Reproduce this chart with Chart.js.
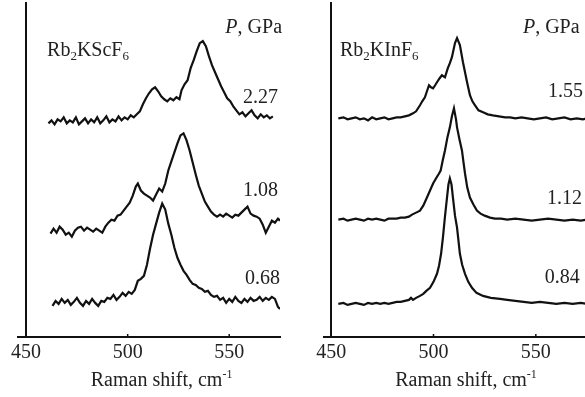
<!DOCTYPE html>
<html>
<head>
<meta charset="utf-8">
<script src="https://cdn.jsdelivr.net/npm/chart.js@4/dist/chart.umd.min.js"></script>
<style>
  html, body { margin: 0; padding: 0; background: #fff; overflow: hidden; width: 585px; height: 397px; }
  .panel { position: absolute; top: 0; width: 300px; height: 397px; }
  #leftPanel { left: 0; }
  #rightPanel { left: 305px; }
</style>
</head>
<body>
<div class="panel" id="leftPanel"><canvas id="chartScF" width="300" height="397"></canvas></div>
<div class="panel" id="rightPanel"><canvas id="chartInF" width="300" height="397"></canvas></div>
<script>
// x axis ticks, cm-1
const xTicks = [450, 500, 550];

// Rb2KScF6, 2.27 GPa
const scf227Shift = [461,462.5,464,465.5,467,468.5,470,471.5,473,474.5,476,477.5,479,480.5,482,483.5,485,486.5,488,489.5,491,492.5,494,495.5,497,498.5,500,501.5,503,504.5,
  506,507.5,509,510.5,512,513.5,515,516.5,518,519.5,521,522.5,524,525.5,526.5,
  528,529.5,531,532.5,534,535.5,537,538.5,540,541.5,543,544.5,546,547.5,549,550.5,552,553.5,555,556.5,558,559.5,561,562.5,564,565.5,567,568.5,570,571.5];
const scf227Int = [213,216,212,217,215,219,213,216,214,219,212,215,218,213,217,214,219,213,216,220,214,217,215,220,216,219,217,221,219,222,
  225,232,238,243,247,249,245,240,237,235,238,236,239,237,246,
  252,256,268,276,285,293,295,290,280,271,264,257,250,244,238,235,230,226,222,224,220,223,226,221,218,222,219,221,218,220];

// Rb2KScF6, 1.08 GPa
const scf108Shift = [462,463.5,465,466.5,468,469.5,471,472.5,474,475.5,477,478.5,480,481.5,483,484.5,486,487.5,489,490.5,492,493.5,495,496.5,498,499.5,501,502.5,504,505,
  506.5,508,509.5,511,512.5,514,515.5,517,518.5,520,521.5,523,524.5,526,527.5,529,530.5,532,533.5,535,536.5,538,539.5,541,542.5,544,545.5,547,548.5,550,
  551.5,553,554.5,556,557.5,559,560.5,562,563.5,565,566.5,568,569.5,571,572.5,574,575];
const scf108Int = [103,108,104,110,107,102,104,100,106,109,110,106,109,107,105,108,106,104,110,114,117,116,121,122,126,130,134,141,150,153,
  146,143,141,139,136,142,148,145,153,166,175,184,193,201,203,196,186,174,162,151,143,135,130,125,122,120,122,120,123,121,
  119,122,121,124,127,130,123,121,120,118,112,104,110,116,114,118,116];

// Rb2KScF6, 0.68 GPa
const scf068Shift = [463,464.5,466,467.5,469,470.5,472,473.5,475,476.5,478,479.5,481,482.5,484,485.5,487,488.5,490,491.5,493,494.5,496,497.5,499,500.5,502,503.5,505,506.5,
  508,509.5,511,512.5,514,515.5,517,518.5,520,521.5,523,524.5,526,527.5,529,530.5,532,533.5,535,536.5,538,539.5,541,542.5,544,545.5,547,548.5,550,551.5,
  553,554.5,556,557.5,559,560.5,562,563.5,565,566.5,568,569.5,571,572.5,574,575];
const scf068Int = [31,36,33,38,34,37,32,35,39,34,31,36,33,38,34,31,36,35,39,38,42,37,40,44,41,45,43,47,56,58,
  61,72,88,102,113,124,133,127,113,102,89,79,72,66,62,57,53,52,49,48,45,46,42,40,41,37,39,34,38,35,
  40,36,34,38,35,39,36,37,40,36,39,37,40,38,30,28];

// Rb2KInF6, 1.55 GPa
const inf155Shift = [453.5,456,458,460,462,464,466,468,470,472,474,476,478,480,482,484,486,488,490,491.5,493.4,494.5,495.8,496.8,497.8,498.8,499.8,500.8,501.7,503,
  504.1,505.6,507,508,509,510.5,511.5,512.9,514.4,515.4,516.4,517.8,519,520.3,522,524.2,526.5,529,532,535,537.4,540,543,546,549,552,555,558,561,564,567,570,573,575];
const inf155Int = [218,219,217,218,219,217,218,216,219,217,218,219,217,218,219,219,220,221,223,225,231,235,239,245,251,249,248,251,254,258,
  261,259,268,273,279,293,298,291,274,264,254,241,235,231,226,224,222,221,220,219,219,218,219,218,217,218,219,217,218,219,217,218,217,218];

// Rb2KInF6, 1.12 GPa
const inf112Shift = [453.5,456,458,460,462,464,466,468,470,472,474,476,478,480,482,484,486,488,489.5,491.5,493.4,495,496.8,498.3,499.8,501.2,502.7,503.5,504.5,505.6,
  506.8,508,509,510,511,511.5,512.7,513.9,514.6,515.4,516.5,517.8,519.5,521.2,523,525,527.6,530,533,536,540,544,548,552,556,560,564,568,572,575];
const inf112Int = [117,118,116,117,118,117,116,118,117,118,117,116,118,118,118,119,119,120,122,124,126,131,139,146,153,158,163,166,176,186,
  199,209,220,228,217,209,197,186,175,163,149,139,132,126,123,121,119,118,118,117,118,117,116,117,118,117,116,117,116,117];

// Rb2KInF6, 0.84 GPa
const inf084Shift = [453.5,456,458,460,462,464,466,468,470,472,474,476,478,480,482,484,486,488,489,490,491.5,493.4,495,496.5,498.3,500,501.7,502.7,503.7,504.6,
  505.6,506.6,507.3,508,508.8,509.5,510.5,511.5,512.2,512.9,514,515.4,517,518.8,521,524.2,528,532.5,536,540,544,548,552,556,560,564,568,572,575];
const inf084Int = [33,34,32,33,34,33,32,34,33,34,33,34,33,34,35,35,36,37,39,37,39,41,43,46,49,55,63,71,83,99,
  120,139,152,158,152,139,121,109,96,83,72,63,55,49,44,41,39,38,37,36,35,34,35,34,33,34,33,34,33];

const toPoints = (xs, ys) => xs.map((x, i) => ({ x: x, y: ys[i] }));

const SERIF = "'Liberation Serif', 'Times New Roman', serif";
const INK = '#222';

// draws text made of pieces: [text, style] with style '', 'italic', 'sub', 'sup'
function drawRich(ctx, parts, x, y, align) {
    const fontFor = st => {
        if (st === 'italic') return 'italic 20px ' + SERIF;
        if (st === 'sub') return '13px ' + SERIF;
        if (st === 'sup') return '12px ' + SERIF;
        return '20px ' + SERIF;
    };
    let total = 0;
    parts.forEach(p => { ctx.font = fontFor(p[1]); total += ctx.measureText(p[0]).width; });
    let cx = x;
    if (align === 'right') cx = x - total;
    if (align === 'center') cx = x - total / 2;
    parts.forEach(p => {
        ctx.font = fontFor(p[1]);
        let dy = 0;
        if (p[1] === 'sub') dy = 4;
        if (p[1] === 'sup') dy = -8;
        ctx.fillText(p[0], cx, y + dy);
        cx += ctx.measureText(p[0]).width;
    });
}

const notesPlugin = {
    id: 'panelNotes',
    afterDraw(chart, args, opts) {
        const ctx = chart.ctx;
        const xs = chart.scales.x;
        const ys = chart.scales.y;
        ctx.save();
        // short inward tick marks
        ctx.strokeStyle = '#111';
        ctx.lineWidth = 1.5;
        xTicks.forEach(v => {
            const px = xs.getPixelForValue(v);
            ctx.beginPath();
            ctx.moveTo(px, chart.chartArea.bottom);
            ctx.lineTo(px, chart.chartArea.bottom - 3);
            ctx.stroke();
        });
        ctx.fillStyle = INK;
        ctx.textBaseline = 'alphabetic';
        (opts.notes || []).forEach(n => {
            drawRich(ctx, n.parts, xs.getPixelForValue(n.x), ys.getPixelForValue(n.y), n.align);
        });
        ctx.restore();
    }
};

function spectrum(points) {
    return {
        data: points,
        borderColor: '#111',
        borderWidth: 2.2,
        pointRadius: 0,
        fill: false,
        tension: 0
    };
}

function makePanel(canvasId, traces, xMin, padLeft, padRight, notes) {
    return new Chart(document.getElementById(canvasId).getContext('2d'), {
        type: 'line',
        data: { datasets: traces.map(spectrum) },
        options: {
            responsive: false,
            animation: false,
            layout: { padding: { top: 3, left: padLeft, right: padRight, bottom: 28 } },
            plugins: {
                legend: { display: false },
                tooltip: { enabled: false },
                panelNotes: { notes: notes }
            },
            scales: {
                x: {
                    type: 'linear',
                    min: xMin,
                    max: 575,
                    afterBuildTicks: s => { s.ticks = xTicks.map(v => ({ value: v })); },
                    grid: { display: false, drawTicks: false },
                    border: { display: true, color: '#111', width: 2 },
                    ticks: {
                        color: INK,
                        padding: 4,
                        maxRotation: 0,
                        font: { family: SERIF, size: 20 }
                    }
                },
                y: {
                    type: 'linear',
                    min: 0,
                    max: 333,
                    position: { x: 450 },
                    grid: { display: false, drawTicks: false },
                    border: { display: true, color: '#111', width: 2 },
                    ticks: { display: false }
                }
            }
        },
        plugins: [notesPlugin]
    });
}

makePanel('chartScF',
    [toPoints(scf227Shift, scf227Int), toPoints(scf108Shift, scf108Int), toPoints(scf068Shift, scf068Int)],
    446, 18, 20,
    [
        { x: 576, y: 303, align: 'right', parts: [['P', 'italic'], [', GPa', '']] },
        { x: 460.3, y: 280, align: 'left', parts: [['Rb', ''], ['2', 'sub'], ['KScF', ''], ['6', 'sub']] },
        { x: 574, y: 233, align: 'right', parts: [['2.27', '']] },
        { x: 574, y: 141, align: 'right', parts: [['1.08', '']] },
        { x: 575, y: 53, align: 'right', parts: [['0.68', '']] },
        { x: 516.7, y: -49, align: 'center', parts: [['Raman shift, cm', ''], ['-1', 'sup']] }
    ]);

makePanel('chartInF',
    [toPoints(inf155Shift, inf155Int), toPoints(inf112Shift, inf112Int), toPoints(inf084Shift, inf084Int)],
    446.5, 19, 18,
    [
        { x: 543.7, y: 303, align: 'left', parts: [['P', 'italic'], [', GPa', '']] },
        { x: 454.3, y: 280, align: 'left', parts: [['Rb', ''], ['2', 'sub'], ['KInF', ''], ['6', 'sub']] },
        { x: 573, y: 239, align: 'right', parts: [['1.55', '']] },
        { x: 572.5, y: 133, align: 'right', parts: [['1.12', '']] },
        { x: 571.5, y: 54, align: 'right', parts: [['0.84', '']] },
        { x: 515.9, y: -49, align: 'center', parts: [['Raman shift, cm', ''], ['-1', 'sup']] }
    ]);
</script>
</body>
</html>
